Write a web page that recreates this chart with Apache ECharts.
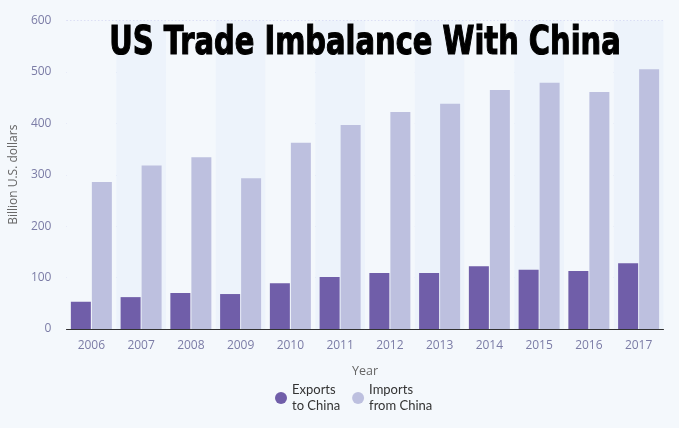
<!DOCTYPE html>
<html>
<head>
<meta charset="utf-8">
<script src="https://cdn.jsdelivr.net/npm/echarts@6/dist/echarts.min.js"></script>
<style>
html,body{margin:0;padding:0;background:#f4f8fc;}
#c{width:679px;height:428px;}
</style>
</head>
<body>
<div id="c"></div>
<script>
var years = ['2006','2007','2008','2009','2010','2011','2012','2013','2014','2015','2016','2017'];
var exportsToChina = [53, 62, 70, 68, 89, 101, 109, 109, 122, 115, 113, 128];
var importsFromChina = [286, 318, 334, 293, 362, 397, 422, 438, 465, 479, 461, 505];
var yTicks = [0, 100, 200, 300, 400, 500, 600];
var titleText = 'US Trade Imbalance With China';

var chart = echarts.init(document.getElementById('c'));
chart.setOption({
  backgroundColor: '#f4f8fc',
  animation: false,
  graphic: [{
    type: 'text', x: 365, y: 44, scaleX: 0.742, z: 100,
    style: {
      text: titleText, x: 0, y: 0, textAlign: 'center', textVerticalAlign: 'middle',
      fontFamily: '"DejaVu Sans", sans-serif', fontWeight: 'bold', fontSize: 39, fill: '#000',
      stroke: '#000', lineWidth: 1.2
    }
  }],
  grid: {left: 63.5, right: 15.5, top: 20.5, bottom: 99, containLabel: false},
  legend: {
    top: 377, left: 270, itemGap: 12,
    icon: 'circle', itemWidth: 12, itemHeight: 12,
    textStyle: {color: '#333', fontSize: 13, fontFamily: 'Lato, "Open Sans", sans-serif', lineHeight: 16},
    data: ['Exports\nto China', 'Imports\nfrom China']
  },
  xAxis: {
    type: 'category', data: years,
    name: 'Year', nameLocation: 'middle', nameGap: 36,
    nameTextStyle: {color: '#666', fontSize: 12.5, fontFamily: '"Open Sans", sans-serif'},
    axisLine: {lineStyle: {color: '#333', width: 1}},
    axisTick: {show: false},
    axisLabel: {color: '#7b7ca6', fontSize: 12, margin: 11, fontFamily: '"Open Sans", sans-serif'},
    splitArea: {show: true, areaStyle: {color: ['#f4f8fc', '#edf3fb']}}
  },
  yAxis: {
    type: 'value', min: yTicks[0], max: yTicks[yTicks.length - 1], interval: 100,
    name: 'Billion U.S. dollars', nameLocation: 'middle', nameGap: 45,
    nameTextStyle: {color: '#666', fontSize: 12, fontFamily: '"Open Sans", sans-serif'},
    axisLine: {show: false}, axisTick: {show: false},
    axisLabel: {color: '#7b7ca6', fontSize: 12, margin: 15, fontFamily: '"Open Sans", sans-serif'},
    splitLine: {lineStyle: {color: '#c5c7ee', type: [1.5, 2], width: 1}}
  },
  series: [
    {name: 'Exports\nto China', type: 'bar', data: exportsToChina, barWidth: 20, barGap: '5%',
     itemStyle: {color: '#705ea9'}},
    {name: 'Imports\nfrom China', type: 'bar', data: importsFromChina, barWidth: 20, barGap: '5%',
     itemStyle: {color: '#bdc0df'}}
  ]
});
</script>
</body>
</html>
